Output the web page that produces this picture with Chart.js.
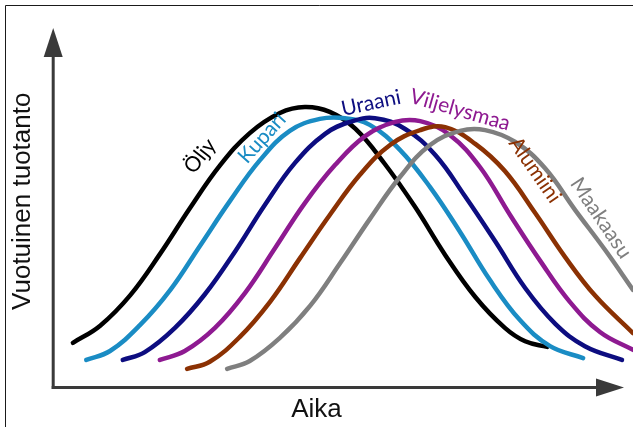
<!DOCTYPE html>
<html>
<head>
<meta charset="utf-8">
<script src="https://cdn.jsdelivr.net/npm/chart.js@4/dist/chart.umd.min.js"></script>
<style>
html,body{margin:0;padding:0;background:#fff;}
#wrap{width:633px;height:427px;position:relative;}
</style>
</head>
<body>
<div id="wrap"><canvas id="c" width="633" height="427"></canvas></div>
<script>
// ---- data (time on x, annual production on y, arbitrary units 0-100) ----
const seriesNames = ["Öljy", "Kupari", "Uraani", "Viljelysmaa", "Alumiini", "Maakaasu"];

const oljyX = [3.4, 8.1, 13.3, 18.4, 23.6, 28.8, 33.9, 39.1, 43.4, 47.7, 52.1, 57.2, 62.4, 67.6, 72.8, 77.9, 81.4, 85.2];
const oljyY = [12.0, 16.6, 24.8, 35.8, 48.2, 59.7, 68.3, 73.7, 75.3, 74.0, 69.5, 60.0, 48.5, 35.6, 24.3, 16.0, 12.4, 10.9];

const kupariX = [5.7, 9.8, 15.0, 20.2, 25.3, 30.5, 35.7, 40.8, 46.0, 50.3, 54.6, 59.8, 65.0, 70.2, 75.3, 80.5, 85.7, 91.4];
const kupariY = [7.4, 9.8, 16.8, 26.2, 38.0, 50.1, 61.1, 68.9, 72.1, 72.3, 70.5, 63.8, 53.8, 41.7, 28.9, 18.1, 11.1, 7.9];

const uraaniX = [12.0, 15.8, 21.0, 26.2, 31.4, 36.5, 41.7, 46.9, 51.2, 55.5, 60.7, 65.9, 71.0, 76.2, 81.4, 86.6, 91.7, 98.1];
const uraaniY = [7.4, 9.5, 16.0, 25.1, 36.6, 49.0, 60.3, 68.1, 71.3, 72.3, 69.4, 62.4, 51.4, 39.3, 26.7, 17.1, 11.1, 7.4];

const viljX = [18.4, 22.7, 27.9, 33.1, 38.3, 43.4, 48.6, 53.8, 59.0, 63.3, 68.4, 73.6, 78.8, 84.0, 89.1, 94.3, 100];
const viljY = [7.4, 9.8, 16.0, 25.4, 37.5, 49.5, 59.7, 67.5, 71.3, 71.5, 67.8, 59.2, 46.3, 34.0, 23.0, 14.9, 10.1];

const alumX = [23.1, 27.0, 32.2, 37.4, 42.6, 47.7, 52.9, 58.1, 63.3, 67.6, 72.8, 77.9, 83.1, 88.3, 93.5, 100];
const alumY = [5.0, 6.9, 13.6, 23.0, 34.8, 46.3, 57.1, 65.1, 69.1, 69.9, 65.4, 58.1, 46.9, 35.0, 24.6, 14.6];

const maakX = [30.0, 33.9, 39.1, 44.3, 49.5, 54.6, 59.8, 65.0, 70.2, 74.5, 79.7, 84.8, 90.0, 95.2, 100];
const maakY = [5.0, 7.1, 13.3, 21.9, 33.4, 45.2, 56.5, 65.1, 68.9, 69.1, 65.9, 58.9, 47.7, 36.9, 26.2];

const xTitle = "Aika";
const yTitle = "Vuotuinen tuotanto";

// ---- styling ----
const colors = ["#000000", "#1a8cc4", "#0d0d80", "#8e1a91", "#8b3103", "#7f7f7f"];
const seriesX = [oljyX, kupariX, uraaniX, viljX, alumX, maakX];
const seriesY = [oljyY, kupariY, uraaniY, viljY, alumY, maakY];

// label placement (pixel position on canvas) and rotation in degrees
const labelPlacement = [
  {px: 200, py: 156, rot: -52},
  {px: 262, py: 138, rot: -48},
  {px: 371, py: 103, rot: -12},
  {px: 460, py: 110, rot: 16},
  {px: 535, py: 170, rot: 55},
  {px: 601, py: 218, rot: 56}
];

const datasets = seriesNames.map((name, i) => ({
  label: name,
  data: seriesX[i].map((x, j) => ({x: x, y: seriesY[i][j]})),
  borderColor: colors[i],
  backgroundColor: colors[i],
  borderWidth: 4.5,
  borderCapStyle: 'round',
  borderJoinStyle: 'round',
  pointRadius: 0,
  pointHoverRadius: 0,
  fill: false,
  showLine: true,
  tension: 0.4,
  order: seriesNames.length - i,
  clip: 8
}));

const AXIS = '#3a3a3a';

const decor = {
  id: 'decor',
  beforeDraw(chart) {
    const ctx = chart.ctx;
    ctx.save();
    ctx.strokeStyle = '#1a1a1a';
    ctx.lineWidth = 1;
    ctx.beginPath();
    ctx.moveTo(5.5, 427);
    ctx.lineTo(5.5, 5.5);
    ctx.lineTo(633, 5.5);
    ctx.stroke();
    ctx.restore();
  },
  beforeDatasetsDraw(chart) {
    const ctx = chart.ctx;
    const a = chart.chartArea;
    const x0 = a.left, y0 = a.bottom;
    ctx.save();
    ctx.strokeStyle = AXIS;
    ctx.fillStyle = AXIS;
    ctx.lineWidth = 3;
    ctx.lineCap = 'butt';
    // y axis
    ctx.beginPath();
    ctx.moveTo(x0, y0 + 1.5);
    ctx.lineTo(x0, 55);
    ctx.stroke();
    ctx.beginPath();
    ctx.moveTo(x0, 28);
    ctx.lineTo(x0 - 9.5, 57);
    ctx.lineTo(x0 + 9.5, 57);
    ctx.closePath();
    ctx.fill();
    // x axis
    ctx.beginPath();
    ctx.moveTo(x0 - 1.5, y0);
    ctx.lineTo(598, y0);
    ctx.stroke();
    ctx.beginPath();
    ctx.moveTo(624, y0);
    ctx.lineTo(596, y0 - 9);
    ctx.lineTo(596, y0 + 9);
    ctx.closePath();
    ctx.fill();
    ctx.restore();
  },
  afterDatasetsDraw(chart) {
    const ctx = chart.ctx;
    ctx.save();
    ctx.font = '21px Lato, "Open Sans", sans-serif';
    ctx.textAlign = 'center';
    ctx.textBaseline = 'middle';
    seriesNames.forEach((name, i) => {
      const p = labelPlacement[i];
      ctx.save();
      ctx.translate(p.px, p.py);
      ctx.rotate(p.rot * Math.PI / 180);
      ctx.fillStyle = colors[i];
      ctx.fillText(name, 0, 0);
      ctx.restore();
    });
    ctx.restore();
  }
};

new Chart(document.getElementById('c'), {
  type: 'scatter',
  data: {datasets: datasets},
  options: {
    responsive: false,
    animation: false,
    events: [],
    layout: {padding: {top: 15, left: 0, right: 0, bottom: 0}},
    plugins: {
      legend: {display: false},
      tooltip: {enabled: false},
      title: {
        display: true,
        position: 'bottom',
        text: xTitle,
        color: '#111',
        font: {family: '"Liberation Sans", Arial, sans-serif', size: 26, weight: 'normal', lineHeight: 1.2},
        padding: {top: 6.9, bottom: 1.4}
      }
    },
    scales: {
      x: {
        type: 'linear', min: 0, max: 100, display: false
      },
      y: {
        type: 'linear', min: 0, max: 100, display: true,
        grid: {display: false, drawTicks: false},
        border: {display: false},
        ticks: {display: false},
        title: {
          display: true, text: yTitle, color: '#111',
          font: {family: '"Liberation Sans", Arial, sans-serif', size: 26, weight: 'normal', lineHeight: 1.2},
          padding: {top: 7, bottom: 15}
        }
      }
    }
  },
  plugins: [decor]
});
</script>
</body>
</html>
